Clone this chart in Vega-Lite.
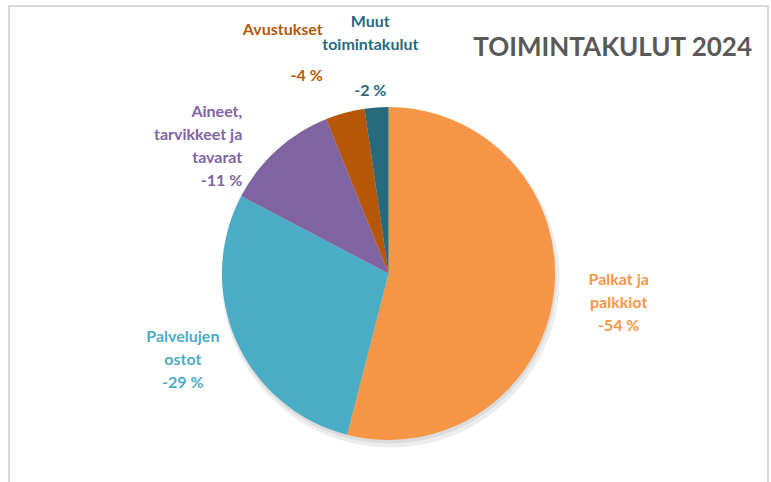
{
  "$schema": "https://vega.github.io/schema/vega-lite/v6.json",
  "autosize": {"type": "none"},
  "padding": {"left": 9, "top": 6, "right": 3, "bottom": -59},
  "width": 759,
  "height": 535,
  "background": "white",
  "view": {"stroke": "#D9D9D9", "strokeWidth": 2},
  "config": {
    "view": {"stroke": "#D9D9D9", "strokeWidth": 2},
    "font": "Lato"
  },
  "title": {
    "text": "TOIMINTAKULUT 2024",
    "anchor": "end",
    "orient": "top",
    "offset": -55,
    "dx": -16,
    "fontSize": 26,
    "fontWeight": "bold",
    "color": "#595959",
    "font": "Lato"
  },
  "data": {
    "values": [
      {"jarj": 1, "nimi": "Palkat ja palkkiot", "osuus": 54.0, "teksti": "Palkat ja\npalkkiot\n-54 %", "pros": "-54 %"},
      {"jarj": 2, "nimi": "Palvelujen ostot", "osuus": 28.7, "teksti": "Palvelujen\nostot\n-29 %", "pros": "-29 %"},
      {"jarj": 3, "nimi": "Aineet, tarvikkeet ja tavarat", "osuus": 11.2, "teksti": "Aineet,\ntarvikkeet ja\ntavarat\n-11 %", "pros": "-11 %"},
      {"jarj": 4, "nimi": "Avustukset", "osuus": 3.8, "teksti": "Avustukset", "pros": "-4 %"},
      {"jarj": 5, "nimi": "Muut toimintakulut", "osuus": 2.3, "teksti": "Muut\ntoimintakulut", "pros": "-2 %"}
    ]
  },
  "encoding": {
    "theta": {"field": "osuus", "type": "quantitative", "stack": true},
    "order": {"field": "jarj", "type": "quantitative"},
    "color": {
      "field": "nimi",
      "type": "nominal",
      "legend": null,
      "scale": {
        "domain": ["Palkat ja palkkiot", "Palvelujen ostot", "Aineet, tarvikkeet ja tavarat", "Avustukset", "Muut toimintakulut"],
        "range": ["#F79646", "#4BACC6", "#8064A2", "#B65708", "#276A7C"]
      }
    }
  },
  "layer": [
    {
      "mark": {"type": "arc", "outerRadius": 169, "xOffset": 2, "yOffset": 5, "fill": "#000000", "opacity": 0.07}
    },
    {
      "mark": {"type": "arc", "outerRadius": 167, "xOffset": 1, "yOffset": 3, "fill": "#000000", "opacity": 0.07}
    },
    {
      "mark": {"type": "arc", "outerRadius": 166.5}
    },
    {
      "mark": {"type": "text", "radius": 232, "dy": -23, "fontSize": 16, "fontWeight": "bold", "lineBreak": "\n", "lineHeight": 23, "align": "center", "baseline": "middle"},
      "encoding": {
        "text": {"condition": {"test": "datum.jarj == 1", "field": "teksti"}, "value": ""}
      }
    },
    {
      "mark": {"type": "text", "radius": 225, "dy": -28, "fontSize": 16, "fontWeight": "bold", "lineBreak": "\n", "lineHeight": 23, "align": "center", "baseline": "middle"},
      "encoding": {
        "text": {"condition": {"test": "datum.jarj == 2", "field": "teksti"}, "value": ""}
      }
    },
    {
      "mark": {"type": "text", "radius": 218, "fontSize": 16, "fontWeight": "bold", "lineBreak": "\n", "lineHeight": 23, "align": "right", "baseline": "middle"},
      "encoding": {
        "text": {"condition": {"test": "datum.jarj == 3", "field": "teksti"}, "value": ""}
      }
    },
    {
      "mark": {"type": "text", "radius": 252, "fontSize": 16, "fontWeight": "bold", "lineBreak": "\n", "lineHeight": 23, "align": "right", "baseline": "middle"},
      "encoding": {
        "text": {"condition": {"test": "datum.jarj == 4", "field": "teksti"}, "value": ""}
      }
    },
    {
      "mark": {"type": "text", "radius": 252, "dy": 46, "fontSize": 16, "fontWeight": "bold", "align": "right", "baseline": "middle"},
      "encoding": {
        "text": {"condition": {"test": "datum.jarj == 4", "field": "pros"}, "value": ""}
      }
    },
    {
      "mark": {"type": "text", "radius": 252, "fontSize": 16, "fontWeight": "bold", "lineBreak": "\n", "lineHeight": 23, "align": "center", "baseline": "middle"},
      "encoding": {
        "text": {"condition": {"test": "datum.jarj == 5", "field": "teksti"}, "value": ""}
      }
    },
    {
      "mark": {"type": "text", "radius": 252, "dy": 69, "fontSize": 16, "fontWeight": "bold", "align": "center", "baseline": "middle"},
      "encoding": {
        "text": {"condition": {"test": "datum.jarj == 5", "field": "pros"}, "value": ""}
      }
    }
  ]
}
